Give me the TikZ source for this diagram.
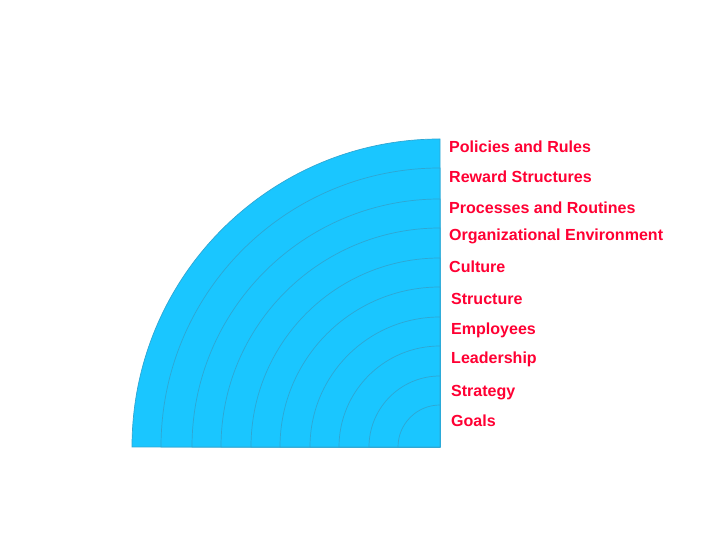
\documentclass[tikz,border=0pt]{standalone}
\usepackage{fontspec}
\setmainfont{Liberation Sans}
\usetikzlibrary{positioning}
\definecolor{ringfill}{HTML}{1AC6FF}
\definecolor{ringline}{HTML}{2FA6D2}
\definecolor{labelred}{HTML}{FF0033}

\begin{document}
\begin{tikzpicture}[
  x=1bp, y=1bp,
  ring/.style={fill=ringfill, draw=ringline, line width=0.7pt},
  layer/.style={font=\fontsize{16.1}{18}\selectfont\bfseries, color=labelred, anchor=base west, inner sep=0pt}
]
\useasboundingbox (0,0) rectangle (720,540);

% Centre of the quarter circle
\coordinate (o) at (440,93);

% Rings, outermost first
\foreach \r in {308,279,248,219,189,160,130,101,71,42} {
  \draw[ring] (o) -- ++(-\r,0) arc[start angle=180, end angle=90, radius=\r] -- cycle;
}

% Labels
\foreach \nm/\xx/\yy/\txt in {
  policies/449/387/Policies and Rules,
  reward/449/357.5/Reward Structures,
  processes/449/326/Processes and Routines,
  environment/449/299/Organizational Environment,
  culture/449/267/Culture,
  structure/451/235/Structure,
  employees/451/205/Employees,
  leadership/451/176/Leadership,
  strategy/451/143/Strategy,
  goals/451/113/Goals} {
  \node[layer] (\nm) at (\xx,\yy) {\txt};
}

\end{tikzpicture}
\end{document}
